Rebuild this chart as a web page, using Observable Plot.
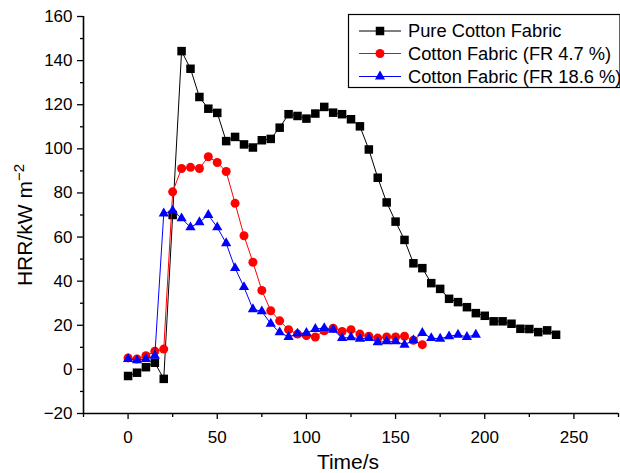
<!DOCTYPE html>
<html>
<head>
<meta charset="utf-8">
<script src="https://cdn.jsdelivr.net/npm/d3@7"></script>
<script src="https://cdn.jsdelivr.net/npm/@observablehq/plot@0.6"></script>
<style>
  html, body { margin: 0; padding: 0; background: #fff; }
  #chart { width: 620px; height: 473px; overflow: hidden; }
</style>
</head>
<body>
<div id="chart"></div>
<script>
// ---- data ----
const timePure = [0,5,10,15,20,25,30,35,40,45,50,55,60,65,70,75,80,85,90,95,100,105,110,115,120,125,130,135,140,145,150,155,160,165,170,175,180,185,190,195,200,205,210,215,220,225,230,235,240];
const hrrPure = [-3,-1.5,1,3,-4.3,70,144.3,136.3,123.5,118.2,116.3,103.5,105.4,102,100.6,103.9,104.5,109.6,115.7,114.9,113.7,116,119,116.4,115.7,113.4,110.2,99.7,86.9,75.7,67,58.7,48.1,45.9,39.1,36.5,32,30.5,28.2,25.5,24.3,21.8,21.8,20.7,18.4,18.3,16.9,17.7,15.7];

const timeFR47 = [0,5,10,15,20,25,30,35,40,45,50,55,60,65,70,75,80,85,90,95,100,105,110,115,120,125,130,135,140,145,150,155,160,165];
const hrrFR47 = [5.2,4.7,6.2,8.2,9.2,80.5,91.1,91.6,91.1,96.4,93.8,89.7,75.3,60.6,48.6,35.8,26.6,22,18,16,15.3,14.7,17.5,18.7,17.2,18,16,15,14.2,14.7,14.7,15,13.2,11.2];

const timeFR186 = [0,5,10,15,20,25,30,35,40,45,50,55,60,65,70,75,80,85,90,95,100,105,110,115,120,125,130,135,140,145,150,155,160,165,170,175,180,185,190,195];
const hrrFR186 = [4.7,4.1,4.7,6.2,70.7,72,68.5,64.4,66.7,70,64.4,57.2,45.9,37.3,27.3,26.3,20.7,16.8,14.7,16.2,16.5,18.3,18.7,18,14.2,14.5,13.9,14.2,12.3,12.7,12.7,11.2,13.2,16.5,14.2,13.9,15,15.7,14.7,15.7];

const seriesNames = ["Pure Cotton Fabric", "Cotton Fabric (FR 4.7 %)", "Cotton Fabric (FR 18.6 %)"];
const seriesColors = ["#000000", "#ff0000", "#0000ff"];
const seriesSymbols = ["square", "circle", "triangle"];

const xMajorTicks = [0, 50, 100, 150, 200, 250];
const xMinorTicks = [-25, 25, 75, 125, 175, 225, 275];
const yMajorTicks = [-20, 0, 20, 40, 60, 80, 100, 120, 140, 160];
const yMinorTicks = [-10, 10, 30, 50, 70, 90, 110, 130, 150];

const xLabel = "Time/s";
const yLabelMain = "HRR/kW m";
const yLabelSup = "−2";

// ---- build ----
const toRows = (t, v) => t.map((x, i) => ({x, y: v[i]}));
const sets = [toRows(timePure, hrrPure), toRows(timeFR47, hrrFR47), toRows(timeFR186, hrrFR186)];
const symR = {square: 4.8, circle: 4.5, triangle: 3.8};

const marks = [];
sets.forEach((rows, i) => {
  marks.push(Plot.line(rows, {x: "x", y: "y", stroke: seriesColors[i], strokeWidth: 1}));
  marks.push(Plot.dot(rows, {x: "x", y: "y", symbol: () => seriesSymbols[i], r: symR[seriesSymbols[i]], fill: seriesColors[i], stroke: "none"}));
});

const font = "'Liberation Sans', Arial, Helvetica, sans-serif";

const chart = Plot.plot({
  width: 620,
  height: 473,
  marginLeft: 83,
  marginRight: 2,
  marginTop: 16,
  marginBottom: 60,
  style: {fontFamily: font, fontSize: "17px", color: "#000", background: "#fff"},
  x: {domain: [-25, 275], axis: null},
  y: {domain: [-20, 160], axis: null},
  symbol: {domain: seriesSymbols, range: seriesSymbols},
  marks: [
    Plot.axisX({ticks: xMajorTicks, tickSize: 6, tickPadding: 11, label: null, fontSize: 17, strokeWidth: 1.3}),
    Plot.axisX({ticks: xMinorTicks, tickSize: 4, tickFormat: () => "", label: null, strokeWidth: 1.3}),
    Plot.axisY({ticks: yMajorTicks, tickSize: 6, tickPadding: 5, label: null, fontSize: 17, strokeWidth: 1.3, tickFormat: d => d < 0 ? "−" + Math.abs(d) : String(d)}),
    Plot.axisY({ticks: yMinorTicks, tickSize: 3, tickFormat: () => "", label: null, strokeWidth: 1.3}),
    Plot.ruleX([-25], {strokeWidth: 1.6}),
    Plot.ruleY([-20], {strokeWidth: 1.6}),
    ...marks
  ]
});

document.getElementById("chart").appendChild(chart);

// ---- labels & legend (layout) ----
const svg = d3.select(chart);
svg.append("text")
  .attr("x", 348).attr("y", 469)
  .attr("text-anchor", "middle")
  .style("font-family", font).style("font-size", "21px").attr("fill", "#000")
  .text(xLabel);

const yl = svg.append("text")
  .attr("transform", "translate(31.5,225) rotate(-90)")
  .attr("text-anchor", "middle")
  .style("font-family", font).style("font-size", "21px").attr("fill", "#000");
yl.append("tspan").text(yLabelMain);
yl.append("tspan").attr("dy", -8).style("font-size", "15px").text(yLabelSup);

const lg = svg.append("g").attr("text-anchor", "start");
lg.append("rect").attr("x", 348.5).attr("y", 14.5).attr("width", 271.5).attr("height", 73)
  .attr("fill", "#fff").attr("stroke", "#000").attr("stroke-width", 1.2);
const rowY = [31, 53.5, 76.5];
const d3sym = {square: d3.symbolSquare, circle: d3.symbolCircle, triangle: d3.symbolTriangle};
seriesNames.forEach((name, i) => {
  const y = rowY[i];
  lg.append("line").attr("x1", 359).attr("x2", 401).attr("y1", y).attr("y2", y)
    .attr("stroke", seriesColors[i]).attr("stroke-width", 1);
  const r = symR[seriesSymbols[i]];
  lg.append("path").attr("transform", `translate(380,${y})`)
    .attr("d", d3.symbol(d3sym[seriesSymbols[i]], r * r * Math.PI)())
    .attr("fill", seriesColors[i]);
  lg.append("text").attr("x", 408).attr("y", y + 6.3)
    .attr("text-anchor", "start")
    .style("font-family", font).style("font-size", "18.3px").attr("fill", "#000")
    .text(name);
});
</script>
</body>
</html>
